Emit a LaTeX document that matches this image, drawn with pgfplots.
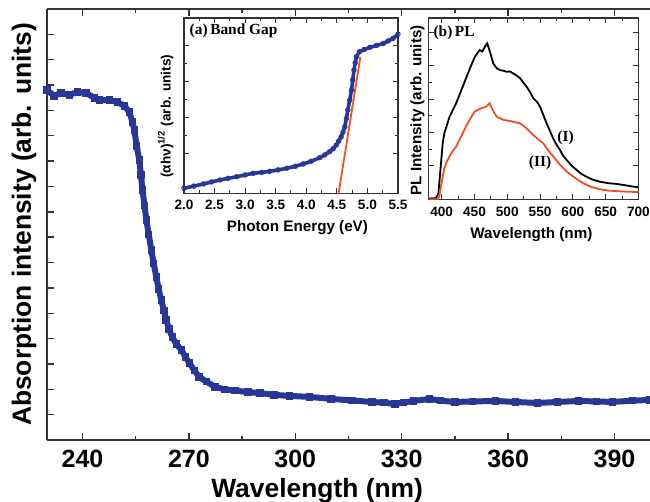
\documentclass[border=0pt]{standalone}
\usepackage{fontspec}
\setmainfont{Liberation Serif}
\setsansfont{Liberation Sans}
\usepackage{pgfplots}
\pgfplotsset{compat=1.18}

\definecolor{absblue}{RGB}{40,55,150}
\definecolor{fitred}{RGB}{240,78,35}
\definecolor{spine}{RGB}{50,50,50}

\newcommand\mainlab{\sffamily\bfseries\fontsize{13.2}{15}\selectfont}
\newcommand\maintick{\sffamily\bfseries\fontsize{12.5}{14}\selectfont}
\newcommand\inlab{\sffamily\bfseries\fontsize{7.6}{9}\selectfont}
\newcommand\inylab{\sffamily\bfseries\fontsize{6.8}{8}\selectfont}
\newcommand\intick{\sffamily\bfseries\fontsize{6.8}{8}\selectfont}
\newcommand\inser{\rmfamily\bfseries\fontsize{7.7}{9}\selectfont}

\begin{document}
\begin{tikzpicture}
% main absorption spectrum
\begin{axis}[
  name=main, at={(0,0)}, anchor=south west,
  scale only axis, width=301.5pt, height=215.5pt,
  xmin=230, xmax=400, ymin=0, ymax=17,
  axis x line*=box, axis y line*=left,
  tick align=inside,
  axis line style={spine, line width=0.9pt},
  every tick/.style={spine, line width=0.7pt},
  major tick length=3.5pt, minor tick length=2pt,
  xtick={240,270,300,330,360,390}, minor x tick num=1,
  ytick={1,...,16}, yticklabels={},
  /pgf/number format/assume math mode=true,
  xticklabel style={font=\maintick, inner sep=0pt, yshift=-5pt},
  xlabel={Wavelength (nm)},
  xlabel style={font=\mainlab, at={(axis description cs:0.448,-0.088)}, anchor=north, inner sep=0pt},
  ylabel={Absorption intensity (arb. units)},
  ylabel style={font=\mainlab, at={(axis description cs:-0.017,0.5)}, anchor=south, inner sep=0pt},
]
\addplot[absblue, line width=3pt, mark=square*, mark size=1.6pt,
  mark options={line width=0pt, fill=absblue}] coordinates {
(230,13.81) (232,13.57) (234,13.69) (236.3,13.61) (238.6,13.73) (241,13.69)
(243.4,13.49) (244.8,13.41) (247.6,13.41) (249.8,13.33) (251.8,13.18)
(253.2,12.94) (254.1,12.54) (254.6,12.23) (255.3,11.6) (256.0,11.05)
(256.5,10.45) (256.9,9.86) (257.5,9.25) (258.0,8.68) (258.7,8.1) (259.4,7.50)
(260.1,6.95) (260.8,6.43) (261.5,5.95) (262.2,5.52) (263,5.1) (263.6,4.73)
(264.4,4.38) (265.3,4.06) (266.5,3.78) (267.9,3.55) (269,3.28) (270.1,3.04)
(271.5,2.75) (272.9,2.49) (275,2.30) (277.4,2.09) (280,2.00) (283,1.95)
(286.7,1.89) (290,1.85) (294,1.78) (298.3,1.74) (304,1.70) (310.1,1.62)
(316,1.56) (321.6,1.50) (325,1.47) (328.1,1.42) (330.5,1.48) (333.4,1.54)
(337.9,1.62) (341,1.55) (345,1.50) (350,1.52) (356.5,1.54) (362,1.50)
(368.3,1.46) (374,1.50) (379.9,1.54) (385,1.52) (389.4,1.50) (395,1.55) (400,1.58)
};
\end{axis}

% inset (a) band gap
\begin{axis}[
  at={(68.5pt,123.35pt)}, anchor=south west,
  scale only axis, width=107pt, height=87.6pt,
  axis background/.style={fill=white},
  xmin=2, xmax=5.5, ymin=-0.2, ymax=9.54,
  tick align=inside,
  axis line style={spine, line width=0.6pt},
  every tick/.style={spine, line width=0.5pt},
  major tick length=2.5pt, minor tick length=1.5pt,
  xtick={2,2.5,3,3.5,4,4.5,5,5.5}, minor x tick num=1,
  ytick={2,4,6,8}, minor y tick num=1, yticklabels={},
  /pgf/number format/assume math mode=true,
  xticklabel style={font=\intick, inner sep=0pt, yshift=-3.3pt,
    /pgf/number format/fixed, /pgf/number format/fixed zerofill, /pgf/number format/precision=1},
  xlabel={Photon Energy (eV)},
  xlabel style={font=\inlab, at={(axis description cs:0.53,-0.155)}, anchor=north, inner sep=0pt},
  ylabel={(αhν)\textsuperscript{1/2} (arb. units)},
  ylabel style={font=\inylab, at={(axis description cs:-0.047,0.44)}, anchor=south, inner sep=0pt},
]
\addplot[absblue, line width=1.8pt, mark=o, mark size=1.1pt,
  mark options={line width=0.5pt}] coordinates {
(2.0,0.08) (2.16,0.2) (2.32,0.32) (2.45,0.43) (2.59,0.54) (2.72,0.63) (2.86,0.72)
(3.0,0.82) (3.13,0.91) (3.27,0.96) (3.40,1.02) (3.54,1.10) (3.68,1.19)
(3.82,1.30) (3.95,1.43) (4.08,1.58) (4.22,1.78) (4.30,1.93) (4.38,2.11)
(4.44,2.28) (4.49,2.48) (4.53,2.70) (4.57,2.94) (4.60,3.20) (4.63,3.50)
(4.655,3.95) (4.68,4.43) (4.71,4.98) (4.74,5.54) (4.76,6.1) (4.78,6.65)
(4.80,7.05) (4.82,7.39) (4.87,7.67) (4.95,7.80) (5.04,7.91) (5.15,8.02)
(5.26,8.13) (5.34,8.27) (5.42,8.41) (5.50,8.65)
};
\addplot[fitred, line width=0.9pt] coordinates {(4.515,-0.5) (4.885,7.39)};
\node[anchor=north west, font=\inser, inner sep=0pt] at (rel axis cs:0.025,0.97) {(a)\,Band Gap};
\end{axis}

% inset (b) PL
\begin{axis}[
  at={(190.8pt,120.35pt)}, anchor=south west,
  scale only axis, width=104.9pt, height=90.65pt,
  axis background/.style={fill=white},
  xmin=380, xmax=700, ymin=0, ymax=10.86,
  tick align=inside,
  axis line style={spine, line width=0.6pt},
  every tick/.style={spine, line width=0.5pt},
  major tick length=2.5pt, minor tick length=1.5pt,
  xtick={400,450,...,700}, minor x tick num=1,
  ytick={2,4,6,8,10}, minor y tick num=1, yticklabels={},
  /pgf/number format/assume math mode=true,
  xticklabel style={font=\intick, inner sep=0pt, yshift=-3.7pt},
  xlabel={Wavelength (nm)},
  xlabel style={font=\inlab, at={(axis description cs:0.49,-0.151)}, anchor=north, inner sep=0pt},
  ylabel={PL Intensity (arb. units)},
  ylabel style={font=\inlab, at={(axis description cs:-0.017,0.49)}, anchor=south, inner sep=0pt},
]
\addplot[black, line width=0.9pt] coordinates {
(380,0.05) (391,0.06) (395,0.36) (398,1.75) (401.5,3.35) (404,3.95) (412,4.95)
(422,5.75) (432,6.74) (443,7.84) (450.6,8.54) (458,8.94) (462,8.85) (466,9.14)
(469.5,9.34) (473.5,8.84) (478.6,8.14) (484,7.85) (488.8,7.74) (494,7.70)
(499,7.64) (504,7.66) (509,7.54) (514,7.42) (519.5,7.25) (524,7.02)
(529.6,6.74) (535,6.40) (539.8,6.05) (545,5.85) (550,5.55) (555,5.05)
(560,4.55) (565,4.10) (570,3.65) (575,3.28) (580.5,2.95) (585,2.62)
(590.7,2.35) (598,2.02) (606,1.75) (613,1.52) (621,1.35) (630,1.18)
(641.6,1.05) (655,0.96) (667,0.92) (680,0.84) (692,0.76) (700,0.72)
};
\addplot[fitred, line width=0.9pt] coordinates {
(380,0.0) (393.7,0.0) (396.2,0.16) (398.5,0.7) (401.5,1.35) (404,1.85) (406.6,2.15)
(411.6,2.55) (416,2.85) (422,3.15) (427,3.55) (432,3.95) (437,4.35)
(442.5,4.75) (450,5.25) (455,5.35) (460,5.45) (464,5.50) (467.9,5.55)
(473,5.75) (476,5.50) (480.6,5.15) (484,4.95) (488.8,4.85) (495,4.75)
(504,4.69) (512,4.62) (519.5,4.55) (524,4.42) (529.6,4.25) (535,4.02)
(539.8,3.85) (547,3.60) (555,3.35) (562,2.95) (570.4,2.55) (578,2.18)
(585.6,1.86) (593,1.58) (601,1.35) (611,1.08) (621,0.86) (630,0.72)
(641.6,0.60) (655,0.52) (670,0.48) (685,0.45) (700,0.44)
};
\node[anchor=north west, font=\inser, inner sep=0pt] at (rel axis cs:0.022,0.96) {(b)\,PL};
\node[font=\inser, inner sep=0pt] at (axis cs:589,3.69) {(I)};
\node[font=\inser, inner sep=0pt] at (axis cs:550,2.16) {(II)};
\end{axis}
\pgfresetboundingbox
\useasboundingbox (-23.5pt,-31pt) rectangle (301.5pt,220pt);
\end{tikzpicture}
\end{document}
